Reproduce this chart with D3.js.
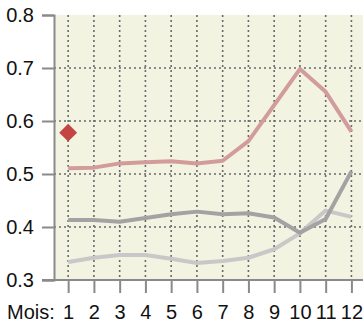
<!DOCTYPE html>
<html lang="fr">
<head>
<meta charset="UTF-8">
<title>Mois</title>
<script src="https://d3js.org/d3.v7.min.js"></script>
<style>
  body { margin: 0; background: #fff; }
</style>
</head>
<body>
<script>
    // Data
    var months = [1, 2, 3, 4, 5, 6, 7, 8, 9, 10, 11, 12];
    var pinkSeries = [0.511, 0.512, 0.520, 0.522, 0.524, 0.520, 0.525, 0.562, 0.630, 0.698, 0.655, 0.580];
    var darkSeries = [0.413, 0.413, 0.410, 0.417, 0.424, 0.429, 0.424, 0.426, 0.418, 0.389, 0.415, 0.505];
    var lightSeries = [0.334, 0.342, 0.347, 0.347, 0.340, 0.332, 0.336, 0.342, 0.358, 0.388, 0.431, 0.419];
    var markerValue = [{ month: 1, value: 0.578 }];
    var yTicks = [0.3, 0.4, 0.5, 0.6, 0.7, 0.8];

    var width = 364, height = 323;
    var margin = { left: 54, right: 1, top: 15, bottom: 43 };
    var fontSize = "20px";

    var svg = d3.select("body").append("svg")
        .attr("width", width)
        .attr("height", height)
        .style("font-family", "'Liberation Sans', Arial, sans-serif");

    var x = d3.scaleLinear()
        .domain([0.45, 12.45])
        .range([margin.left, width - margin.right]);

    var y = d3.scaleLinear()
        .domain([0.3, 0.8])
        .range([height - margin.bottom, margin.top]);

    // background
    svg.append("rect")
        .attr("x", margin.left)
        .attr("y", margin.top)
        .attr("width", width - margin.right - margin.left)
        .attr("height", y(0.3) - margin.top)
        .attr("fill", "#f3f3e2");

    // dotted grid
    var grid = svg.append("g")
        .attr("stroke", "#6a6a6a")
        .attr("stroke-width", 1.6)
        .attr("stroke-dasharray", "2,3");

    grid.selectAll(".vg").data(months).enter().append("line")
        .attr("x1", d => x(d)).attr("x2", d => x(d))
        .attr("y1", margin.top).attr("y2", y(0.3));

    grid.selectAll(".hg").data(yTicks.slice(1, -1)).enter().append("line")
        .attr("x1", margin.left).attr("x2", width - margin.right)
        .attr("y1", d => y(d)).attr("y2", d => y(d));

    // axes
    var yAxis = d3.axisLeft(y)
        .tickValues(yTicks)
        .tickSize(12)
        .tickPadding(8)
        .tickFormat(d3.format(".1f"));

    var gy = svg.append("g")
        .attr("transform", "translate(" + margin.left + ",0)")
        .call(yAxis);

    var xAxis = d3.axisBottom(x)
        .tickValues(months)
        .tickSize(13)
        .tickPadding(12)
        .tickFormat(d3.format("d"));

    var gx = svg.append("g")
        .attr("transform", "translate(0," + y(0.3) + ")")
        .call(xAxis);

    [gx, gy].forEach(function(g) {
        g.select(".domain").attr("stroke", "#8a8a8a").attr("stroke-width", 2);
        g.selectAll(".tick line").attr("stroke", "#8a8a8a").attr("stroke-width", 2);
        g.selectAll(".tick text").attr("fill", "#111").style("font-size", fontSize);
    });
    gx.select(".domain").attr("d", "M" + (margin.left - 12) + ",0H" + (width - margin.right));

    svg.append("text")
        .attr("x", 7)
        .attr("y", 319)
        .attr("fill", "#111")
        .style("font-size", fontSize)
        .text("Mois:");

    // series lines
    var line = d3.line()
        .x((d, i) => x(months[i]))
        .y(d => y(d));

    var series = [
        { values: lightSeries, color: "#c8c8c8" },
        { values: darkSeries, color: "#a3a3a3" },
        { values: pinkSeries, color: "#d39c9c" }
    ];

    svg.selectAll(".series").data(series).enter().append("path")
        .attr("d", d => line(d.values))
        .attr("fill", "none")
        .attr("stroke", d => d.color)
        .attr("stroke-width", 4)
        .attr("stroke-linejoin", "round");

    // diamond marker
    svg.selectAll(".marker").data(markerValue).enter().append("path")
        .attr("d", d3.symbol(d3.symbolSquare, 160))
        .attr("transform", d => "translate(" + x(d.month) + "," + y(d.value) + ") rotate(45)")
        .attr("fill", "#c44343");
</script>
</body>
</html>
